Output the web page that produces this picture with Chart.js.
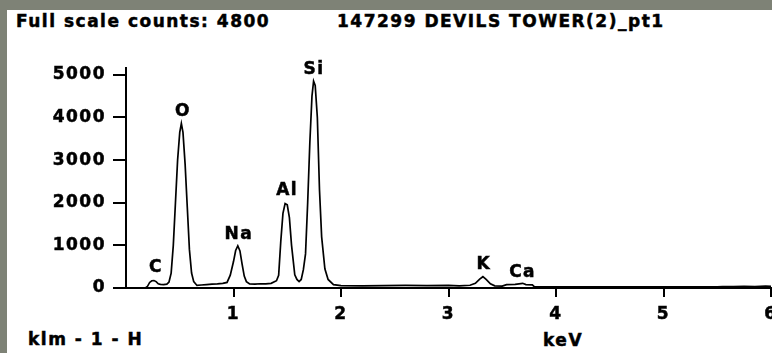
<!DOCTYPE html>
<html>
<head>
<meta charset="utf-8">
<script src="https://cdn.jsdelivr.net/npm/chart.js@4"></script>
<style>
  html, body { margin: 0; padding: 0; width: 772px; height: 353px; overflow: hidden; background: #7e8276; }
  #painel { position: absolute; left: 7px; top: 10px; width: 765px; height: 343px; background: #fff; }
  #grafico { position: absolute; left: 0; top: 0; }
  .txt { position: absolute; font: bold 17px "DejaVu Sans"; letter-spacing: 1.5px; color: #000; white-space: nowrap; line-height: 1; -webkit-text-stroke: 0.5px #000; }
</style>
</head>
<body>
<div id="painel"></div>
<div class="txt" style="left:16px; top:12.8px">Full scale counts: 4800</div>
<div class="txt" style="left:337px; top:12.8px">147299 DEVILS TOWER(2)_pt1</div>
<div class="txt" style="left:28px; top:330.8px">klm - 1 - H</div>
<div class="txt" style="left:543px; top:331.8px">keV</div>
<canvas id="grafico" width="772" height="353"></canvas>

<script>
// espectro EDS (keV, contagens)
const energias = [
  0.00, 0.18, 0.20, 0.22, 0.24, 0.26, 0.28, 0.30, 0.32, 0.35, 0.38, 0.40,
  0.42, 0.44, 0.46, 0.48, 0.50, 0.515, 0.53, 0.55, 0.57, 0.59, 0.61, 0.63, 0.66,
  0.70, 0.75, 0.80, 0.85, 0.90, 0.94,
  0.97, 1.00, 1.02, 1.04, 1.06, 1.08, 1.10, 1.12, 1.15,
  1.20, 1.25, 1.30, 1.35, 1.40,
  1.42, 1.44, 1.46, 1.48, 1.50, 1.52, 1.54, 1.57, 1.59, 1.61, 1.63,
  1.65, 1.67, 1.69, 1.71, 1.73, 1.745, 1.76, 1.78, 1.80, 1.82, 1.85, 1.88, 1.93,
  2.00, 2.20, 2.40, 2.60, 2.80, 3.00, 3.10, 3.20,
  3.25, 3.29, 3.32, 3.35, 3.39, 3.43, 3.50, 3.54, 3.62, 3.69, 3.72, 3.78, 3.80,
  4.00, 4.50, 5.00, 5.50, 5.55, 5.65, 5.75, 5.85, 5.95, 6.00
];
const contagens = [
  0, 0, 40, 130, 170, 175, 150, 100, 85, 80, 90, 140,
  350, 1000, 2000, 3000, 3650, 3860, 3650, 2900, 1900, 900, 350, 150, 60,
  70, 80, 90, 95, 110, 130,
  300, 620, 880, 990, 870, 560, 280, 150, 95,
  90, 100, 95, 110, 170,
  300, 1100, 1750, 1980, 1950, 1650, 1000, 310, 200, 150, 200,
  430, 800, 2000, 3400, 4500, 4850, 4750, 4000, 2300, 1200, 450, 200, 80,
  55, 50, 55, 60, 55, 60, 50, 65,
  110, 210, 265, 200, 100, 50, 45, 80, 85, 110, 80, 75, 25,
  25, 25, 25, 25, 35, 30, 40, 35, 45, 40
];

// marcas dos eixos
const ticksY = [0, 1000, 2000, 3000, 4000, 5000];
const ticksX = [1, 2, 3, 4, 5, 6];

// rótulos dos elementos
const simbolos = ['C', 'O', 'Na', 'Al', 'Si', 'K', 'Ca'];
const energiaRotulo = [0.27, 0.52, 1.04, 1.49, 1.74, 3.32, 3.68];
const contagemRotulo = [475, 4145, 1260, 2275, 5120, 545, 355];

const fonte = { family: 'DejaVu Sans', size: 17, weight: 'bold' };

// espaçamento entre letras como no original
const espacamento = {
  id: 'espacamento',
  beforeLayout(chart) { chart.ctx.letterSpacing = '1.5px'; },
  beforeDraw(chart) { chart.ctx.letterSpacing = '1.5px'; }
};

const rotulos = {
  id: 'rotulos',
  afterDatasetsDraw(chart) {
    const { ctx, scales } = chart;
    ctx.save();
    ctx.font = 'bold 17px "DejaVu Sans"';
    ctx.letterSpacing = '1.5px';
    ctx.fillStyle = '#000';
    ctx.strokeStyle = '#000';
    ctx.lineWidth = 0.5;
    ctx.textAlign = 'center';
    ctx.textBaseline = 'middle';
    simbolos.forEach((s, i) => {
      const x = scales.x.getPixelForValue(energiaRotulo[i]) + 1;
      const y = scales.y.getPixelForValue(contagemRotulo[i]);
      ctx.fillText(s, x, y);
      ctx.strokeText(s, x, y);
    });
    ctx.restore();
  }
};

new Chart(document.getElementById('grafico'), {
  type: 'line',
  data: {
    datasets: [{
      data: energias.map((e, i) => ({ x: e, y: contagens[i] })),
      borderColor: '#000',
      borderWidth: 1.7,
      pointRadius: 0,
      tension: 0,
      fill: false
    }]
  },
  options: {
    responsive: false,
    animation: false,
    devicePixelRatio: 1,
    layout: { padding: { top: 68, right: 1, left: 0, bottom: 0 } },
    plugins: { legend: { display: false }, tooltip: { enabled: false } },
    scales: {
      x: {
        type: 'linear', min: 0, max: 6,
        ticks: { color: '#000', font: fonte, padding: 7, maxRotation: 0, autoSkip: false,
                 textStrokeColor: '#000', textStrokeWidth: 0.5 },
        grid: { drawOnChartArea: false, drawTicks: true, tickLength: 9, color: '#000', lineWidth: 2 },
        border: { display: true, color: '#000', width: 2 },
        afterBuildTicks: s => { s.ticks = ticksX.map(v => ({ value: v })); },
        afterFit: s => { s.height = 65; s.paddingLeft = 0; s.paddingRight = 0; }
      },
      y: {
        min: 0, max: 5160,
        ticks: { color: '#000', font: fonte, padding: 7, callback: v => String(v),
                 textStrokeColor: '#000', textStrokeWidth: 0.5 },
        grid: { drawOnChartArea: false, drawTicks: true, tickLength: 13, color: '#000', lineWidth: 2 },
        border: { display: true, color: '#000', width: 2 },
        afterBuildTicks: s => { s.ticks = ticksY.map(v => ({ value: v })); },
        afterFit: s => { s.width = 126; s.paddingTop = 0; s.paddingBottom = 0; }
      }
    }
  },
  plugins: [espacamento, rotulos]
});
</script>
</body>
</html>
